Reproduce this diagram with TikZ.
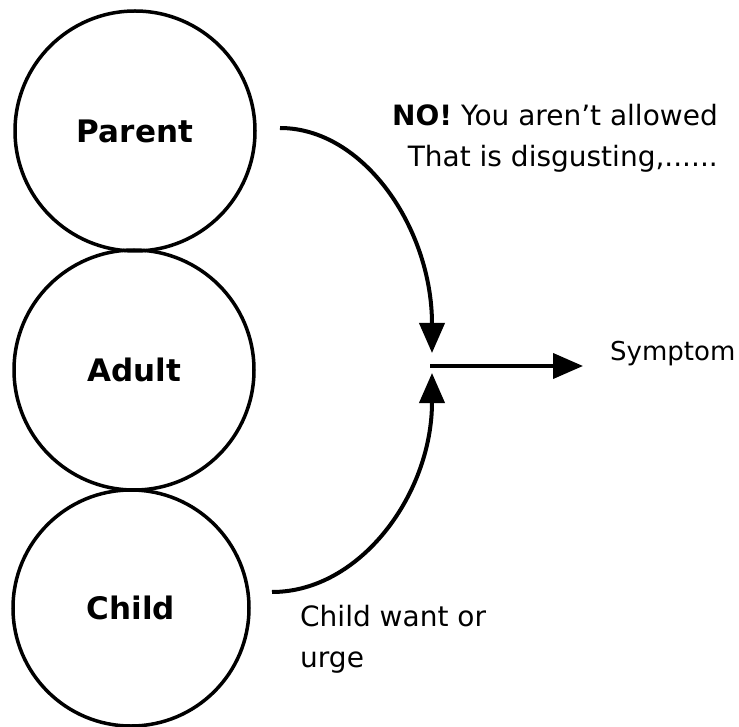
\documentclass[tikz,border=0pt]{standalone}
\usepackage{fontspec}
\setmainfont{DejaVu Sans}
\usetikzlibrary{arrows.meta}
\begin{document}
\begin{tikzpicture}[x=1pt,y=-1pt,
  ego/.style={circle,draw,line width=3.5pt,minimum size=240pt,inner sep=0pt,
    font={\fontsize{31}{36}\selectfont\bfseries}},
  flow/.style={line width=4pt,-{Triangle[length=30pt,width=25pt]}},
  note/.style={inner sep=0pt,font={\fontsize{28}{41}\selectfont}}]
\useasboundingbox (0,0) rectangle (739,727);
\node[ego] (P) at (135,131) {Parent};
\node[ego] (A) at (134,370) {Adult};
\node[ego,minimum size=236pt] (C) at (131,608) {Child};
\coordinate (ps) at (280,128);
\coordinate (cs) at (272,592);
\coordinate (J) at (430,366);
\coordinate (S) at (583,366);
\draw[flow] (ps) arc[start angle=270,end angle=360,x radius=152,y radius=225];
\draw[flow] (cs) arc[start angle=90,end angle=0,x radius=160,y radius=219];
\draw[flow] (J) -- (S);
\node[note,anchor=base east,align=right] (no) at (718,167)
  {\textbf{NO!} You aren't allowed\\That is disgusting,......};
\node[note,anchor=base west,font={\fontsize{26}{30}\selectfont}] (sym) at (610,360) {Symptom};
\node[note,anchor=base west,align=left] (cw) at (300,667) {Child want or\\urge};
\end{tikzpicture}
\end{document}
